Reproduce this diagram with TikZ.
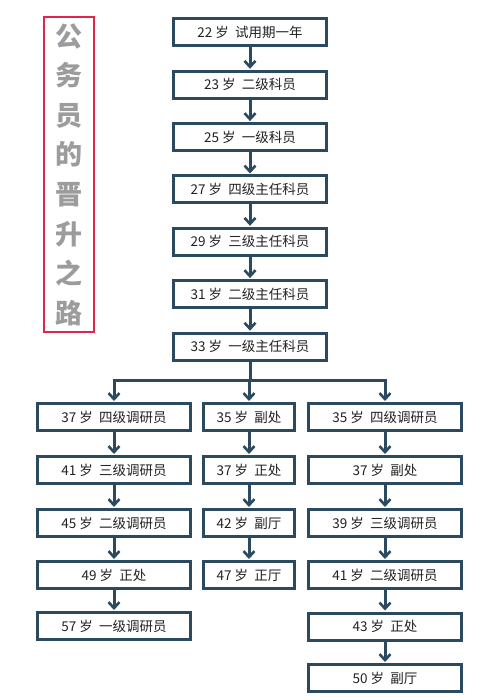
\documentclass[tikz,border=0pt]{standalone}
\usepackage{fontspec}
\setmainfont{Noto Sans CJK SC}
\usetikzlibrary{arrows.meta}
\definecolor{boxc}{HTML}{2B4A5F}
\definecolor{redc}{HTML}{E0244A}
\definecolor{grayc}{HTML}{9C9C9C}
\definecolor{txtc}{HTML}{222222}
\tikzset{
  stepbox/.style={draw=boxc, line width=3pt, fill=white, text=txtc, inner sep=0pt,
    minimum height=27pt, font=\fontsize{13.5}{15}\selectfont},
  widebox/.style={stepbox, minimum width=153pt},
  narrowbox/.style={stepbox, minimum width=91pt},
  conn/.style={draw=boxc, line width=3pt},
  arr/.style={conn, -{Straight Barb[length=6pt,width=11pt,line width=2.6pt]}, shorten >=1pt},
}
\begin{document}
\begin{tikzpicture}[x=1pt,y=-1pt]
\useasboundingbox[fill=white] (0,0) rectangle (500,700);
% title
\node[draw=redc, line width=2pt, minimum width=50pt, minimum height=315pt, inner sep=0pt,
  text=grayc, align=center, font=\fontsize{27}{39.6}\selectfont\bfseries] (title) at (69,174.5)
  {公\\务\\员\\的\\晋\\升\\之\\路};
% main column
\node[widebox] (a1) at (250,32.5) {22 岁\ \ 试用期一年};
\node[widebox] (a2) at (250,84.8) {23 岁\ \ 二级科员};
\node[widebox] (a3) at (250,137.1) {25 岁\ \ 一级科员};
\node[widebox] (a4) at (250,189.5) {27 岁\ \ 四级主任科员};
\node[widebox] (a5) at (250,241.8) {29 岁\ \ 三级主任科员};
\node[widebox] (a6) at (250,294.1) {31 岁\ \ 二级主任科员};
\node[widebox] (a7) at (250,346.7) {33 岁\ \ 一级主任科员};
% left column
\node[widebox] (l1) at (114,417) {37 岁\ \ 四级调研员};
\node[widebox] (l2) at (114,470) {41 岁\ \ 三级调研员};
\node[widebox] (l3) at (114,523) {45 岁\ \ 二级调研员};
\node[widebox] (l4) at (114,575) {49 岁\ \ 正处};
\node[widebox] (l5) at (114,626) {57 岁\ \ 一级调研员};
% middle column
\node[narrowbox] (m1) at (249,417) {35 岁\ \ 副处};
\node[narrowbox] (m2) at (249,470) {37 岁\ \ 正处};
\node[narrowbox] (m3) at (249,523) {42 岁\ \ 副厅};
\node[narrowbox] (m4) at (249,575) {47 岁\ \ 正厅};
% right column
\node[widebox] (r1) at (385,417) {35 岁\ \ 四级调研员};
\node[widebox] (r2) at (385,470) {37 岁\ \ 副处};
\node[widebox] (r3) at (385,523) {39 岁\ \ 三级调研员};
\node[widebox] (r4) at (385,575) {41 岁\ \ 二级调研员};
\node[widebox] (r5) at (385,626.5) {43 岁\ \ 正处};
\node[widebox] (r6) at (385,678) {50 岁\ \ 副厅};
% arrows main
\foreach \i/\j in {a1/a2,a2/a3,a3/a4,a4/a5,a5/a6,a6/a7,
  l1/l2,l2/l3,l3/l4,l4/l5, m1/m2,m2/m3,m3/m4,
  r1/r2,r2/r3,r3/r4,r4/r5,r5/r6}
  \draw[arr] (\i.south) -- (\j.north);
% branch
\coordinate (br) at (250,380);
\draw[conn] (a7.south) -- (br);
\draw[conn, line cap=butt] ([xshift=-1.5pt]l1.north |- br) -- ([xshift=1.5pt]r1.north |- br);
\draw[arr] (l1.north |- br) -- (l1.north);
\draw[arr] (m1.north |- br) -- (m1.north);
\draw[arr] (r1.north |- br) -- (r1.north);
\end{tikzpicture}
\end{document}
